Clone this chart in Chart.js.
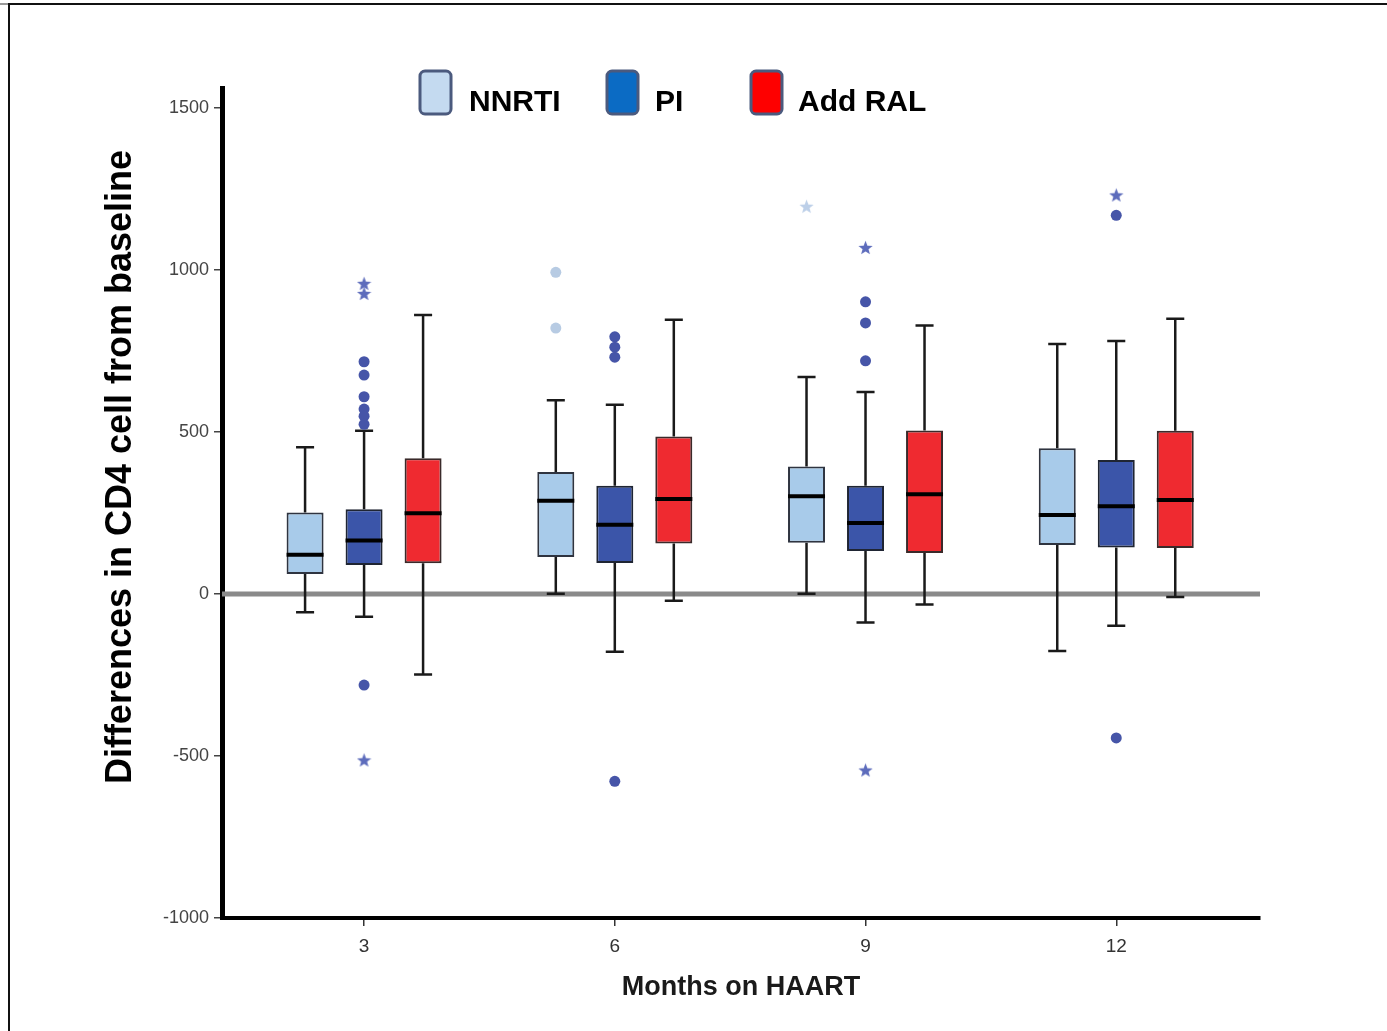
<!DOCTYPE html>
<html>
<head>
<meta charset="utf-8">
<title>CD4 change by regimen</title>
<script src="https://cdn.jsdelivr.net/npm/chart.js@4.4.1/dist/chart.umd.min.js"></script>
<style>
  html, body { margin: 0; padding: 0; background: #fff; overflow: hidden; }
  #wrap { position: relative; width: 1387px; height: 1031px; }
</style>
</head>
<body>
<div id="wrap"><canvas id="boxChart" width="1387" height="1031"></canvas></div>
<script>
// months on HAART (x categories) and axis ticks
const months = [3, 6, 9, 12];
const yTicks = [-1000, -500, 0, 500, 1000, 1500];

// box plot summaries: low whisker, Q1, median, Q3, high whisker
const nnrtiLow  = [-56, 1, 1, -176];
const nnrtiQ1   = [62, 114, 158, 151];
const nnrtiMed  = [121, 288, 302, 244];
const nnrtiQ3   = [252, 377, 394, 450];
const nnrtiHigh = [453, 598, 670, 772];

const piLow  = [-70, -178, -88, -98];
const piQ1   = [90, 96, 133, 144];
const piMed  = [165, 214, 219, 271];
const piQ3   = [262, 334, 334, 414];
const piHigh = [504, 584, 624, 781];

const ralLow  = [-248, -21, -32, -9];
const ralQ1   = [95, 156, 127, 142];
const ralMed  = [249, 293, 308, 290];
const ralQ3   = [419, 486, 505, 504];
const ralHigh = [861, 847, 829, 850];

// outliers (circles) and extremes (stars)
const nnrtiOutMonth = [6, 6];
const nnrtiOutValue = [993, 821];
const nnrtiExtMonth = [9];
const nnrtiExtValue = [1197];
const piOutMonth = [3, 3, 3, 3, 3, 3, 3, 6, 6, 6, 6, 9, 9, 9, 12, 12];
const piOutValue = [717, 676, 609, 571, 549, 524, -281, 794, 762, 731, -578, 902, 837, 720, 1169, -444];
const piExtMonth = [3, 3, 3, 9, 9, 12];
const piExtValue = [959, 928, -512, 1070, -543, 1232];

// layout of the grouped boxes (in months on the x scale)
const catPct = 0.706;
const barPct = 0.627;
const groupOffset = [-catPct, 0, catPct];
const boxHalf = catPct * barPct / 2;
const capHalf = 0.108;
const xMin = 1.3, xMax = 13.72;

function boxData(q1, q3) {
    return months.map((m, i) => ({ x: m, y: [q1[i], q3[i]] }));
}

// whiskers + caps as broken line segments
function whiskerData(off, low, q1, q3, high) {
    const pts = [];
    months.forEach((m, i) => {
        const x = m + off;
        pts.push({ x: x, y: low[i] }, { x: x, y: q1[i] }, { x: x, y: null });
        pts.push({ x: x, y: q3[i] }, { x: x, y: high[i] }, { x: x, y: null });
        pts.push({ x: x - capHalf, y: low[i] }, { x: x + capHalf, y: low[i] }, { x: x, y: null });
        pts.push({ x: x - capHalf, y: high[i] }, { x: x + capHalf, y: high[i] }, { x: x, y: null });
    });
    return pts;
}

function medianData(off, med) {
    const pts = [];
    months.forEach((m, i) => {
        pts.push({ x: m + off - boxHalf, y: med[i] }, { x: m + off + boxHalf, y: med[i] }, { x: m, y: null });
    });
    return pts;
}

function pointData(off, ms, vs) {
    return ms.map((m, i) => ({ x: m + off, y: vs[i] }));
}

function makeStar(color, size) {
    const c = document.createElement('canvas');
    c.width = size;
    c.height = size;
    const g = c.getContext('2d');
    g.fillStyle = color;
    g.beginPath();
    for (let k = 0; k < 10; k++) {
        const r = k % 2 ? size * 0.21 : size * 0.5;
        const a = -Math.PI / 2 + k * Math.PI / 5;
        const px = size / 2 + r * Math.cos(a);
        const py = size / 2 + size * 0.05 + r * Math.sin(a);
        if (k === 0) g.moveTo(px, py); else g.lineTo(px, py);
    }
    g.closePath();
    g.fill();
    return c;
}

const lineBase = { type: 'line', showLine: true, pointRadius: 0, pointHoverRadius: 0, fill: false, tension: 0, spanGaps: false };
const pointBase = { type: 'scatter', showLine: false, borderWidth: 0, order: 1 };

// legend, y title and frame
const extras = {
    id: 'extras',
    afterDraw(chart) {
        const ctx = chart.ctx;
        ctx.save();

        // frame
        ctx.strokeStyle = '#999';
        ctx.lineWidth = 2;
        ctx.beginPath();
        ctx.moveTo(0, 4);
        ctx.lineTo(9, 4);
        ctx.stroke();
        ctx.strokeStyle = '#111';
        ctx.beginPath();
        ctx.moveTo(9, 1031);
        ctx.lineTo(9, 4);
        ctx.lineTo(1387, 4);
        ctx.stroke();

        // legend
        const fills = ['#c4daf0', '#0b6bc4', '#fe0000'];
        const boxX = [420, 607, 751];
        const textX = [469, 655, 798];
        ctx.font = 'bold 30px "Liberation Sans", Arial, sans-serif';
        ctx.textBaseline = 'middle';
        ctx.textAlign = 'left';
        for (let i = 0; i < 3; i++) {
            ctx.fillStyle = fills[i];
            ctx.strokeStyle = '#4b5a7e';
            ctx.lineWidth = 3;
            ctx.beginPath();
            ctx.roundRect(boxX[i], 71, 31, 43, 5);
            ctx.fill();
            ctx.stroke();
            ctx.fillStyle = '#000';
            ctx.fillText(chart.data.datasets[i].label, textX[i], 103);
        }

        // y axis title
        ctx.translate(121, 467);
        ctx.rotate(-Math.PI / 2);
        ctx.textAlign = 'center';
        ctx.font = 'bold 36px "Liberation Sans", Arial, sans-serif';
        ctx.fillStyle = '#000';
        ctx.fillText('Differences in CD4 cell from baseline', 0, 0);
        ctx.restore();
    }
};

const ctx = document.getElementById('boxChart').getContext('2d');
new Chart(ctx, {
    type: 'bar',
    data: {
        datasets: [
            { label: 'NNRTI', data: boxData(nnrtiQ1, nnrtiQ3), backgroundColor: '#a8cbea', borderColor: '#2f3440', borderWidth: 2, borderSkipped: false, order: 3 },
            { label: 'PI', data: boxData(piQ1, piQ3), backgroundColor: '#3b55a9', borderColor: '#1f2533', borderWidth: 2, borderSkipped: false, order: 3 },
            { label: 'Add RAL', data: boxData(ralQ1, ralQ3), backgroundColor: '#ef2a30', borderColor: '#3a2a2a', borderWidth: 2, borderSkipped: false, order: 3 },

            { ...lineBase, label: 'zero', data: [{ x: xMin, y: 0 }, { x: xMax, y: 0 }], borderColor: '#8a8a8a', borderWidth: 5, order: 6 },

            { ...lineBase, label: 'w1', data: whiskerData(groupOffset[0], nnrtiLow, nnrtiQ1, nnrtiQ3, nnrtiHigh), borderColor: '#1a1a1a', borderWidth: 2.5, order: 4 },
            { ...lineBase, label: 'w2', data: whiskerData(groupOffset[1], piLow, piQ1, piQ3, piHigh), borderColor: '#1a1a1a', borderWidth: 2.5, order: 4 },
            { ...lineBase, label: 'w3', data: whiskerData(groupOffset[2], ralLow, ralQ1, ralQ3, ralHigh), borderColor: '#1a1a1a', borderWidth: 2.5, order: 4 },

            { ...lineBase, label: 'm1', data: medianData(groupOffset[0], nnrtiMed), borderColor: '#000', borderWidth: 4, order: 1 },
            { ...lineBase, label: 'm2', data: medianData(groupOffset[1], piMed), borderColor: '#000', borderWidth: 4, order: 1 },
            { ...lineBase, label: 'm3', data: medianData(groupOffset[2], ralMed), borderColor: '#000', borderWidth: 4, order: 1 },

            { ...pointBase, label: 'o1', data: pointData(groupOffset[0], nnrtiOutMonth, nnrtiOutValue), pointStyle: 'circle', pointRadius: 5.5, backgroundColor: '#b7cbe3' },
            { ...pointBase, label: 'e1', data: pointData(groupOffset[0], nnrtiExtMonth, nnrtiExtValue), pointStyle: makeStar('#bccfe8', 15), pointRadius: 7 },
            { ...pointBase, label: 'o2', data: pointData(groupOffset[1], piOutMonth, piOutValue), pointStyle: 'circle', pointRadius: 5.5, backgroundColor: '#4655a8' },
            { ...pointBase, label: 'e2', data: pointData(groupOffset[1], piExtMonth, piExtValue), pointStyle: makeStar('#5d6cbc', 15), pointRadius: 7 }
        ]
    },
    options: {
        responsive: false,
        animation: false,
        events: [],
        categoryPercentage: catPct,
        barPercentage: barPct,
        layout: { padding: { left: 0, right: 127, top: 88, bottom: 13 } },
        plugins: {
            legend: { display: false },
            tooltip: { enabled: false }
        },
        scales: {
            x: {
                type: 'linear',
                min: xMin,
                max: xMax,
                offset: false,
                afterBuildTicks: (scale) => { scale.ticks = months.map(v => ({ value: v })); },
                afterFit: (scale) => { scale.height = 100; },
                grid: { offset: false, drawOnChartArea: false, drawTicks: true, tickLength: 8, color: '#333', lineWidth: 1.5 },
                border: { display: true, color: '#000', width: 4 },
                ticks: { color: '#333', padding: 9, font: { family: '"Liberation Sans", Arial, sans-serif', size: 19 },
                         callback: (v) => String(v) },
                title: {
                    display: true,
                    text: 'Months on HAART',
                    color: '#1a1a1a',
                    font: { family: '"Liberation Sans", Arial, sans-serif', size: 27, weight: 'bold' },
                    padding: { top: 0, bottom: 14 }
                }
            },
            y: {
                type: 'linear',
                min: -1000,
                max: 1562,
                afterBuildTicks: (scale) => { scale.ticks = yTicks.map(v => ({ value: v })); },
                afterFit: (scale) => { scale.width = 222; },
                grid: { drawOnChartArea: false, drawTicks: true, tickLength: 8, color: '#444', lineWidth: 1.5 },
                border: { display: true, color: '#000', width: 5 },
                ticks: { color: '#444', padding: 5, font: { family: '"Liberation Sans", Arial, sans-serif', size: 18 },
                         callback: (v) => String(v) }
            }
        }
    },
    plugins: [extras]
});
</script>
</body>
</html>
